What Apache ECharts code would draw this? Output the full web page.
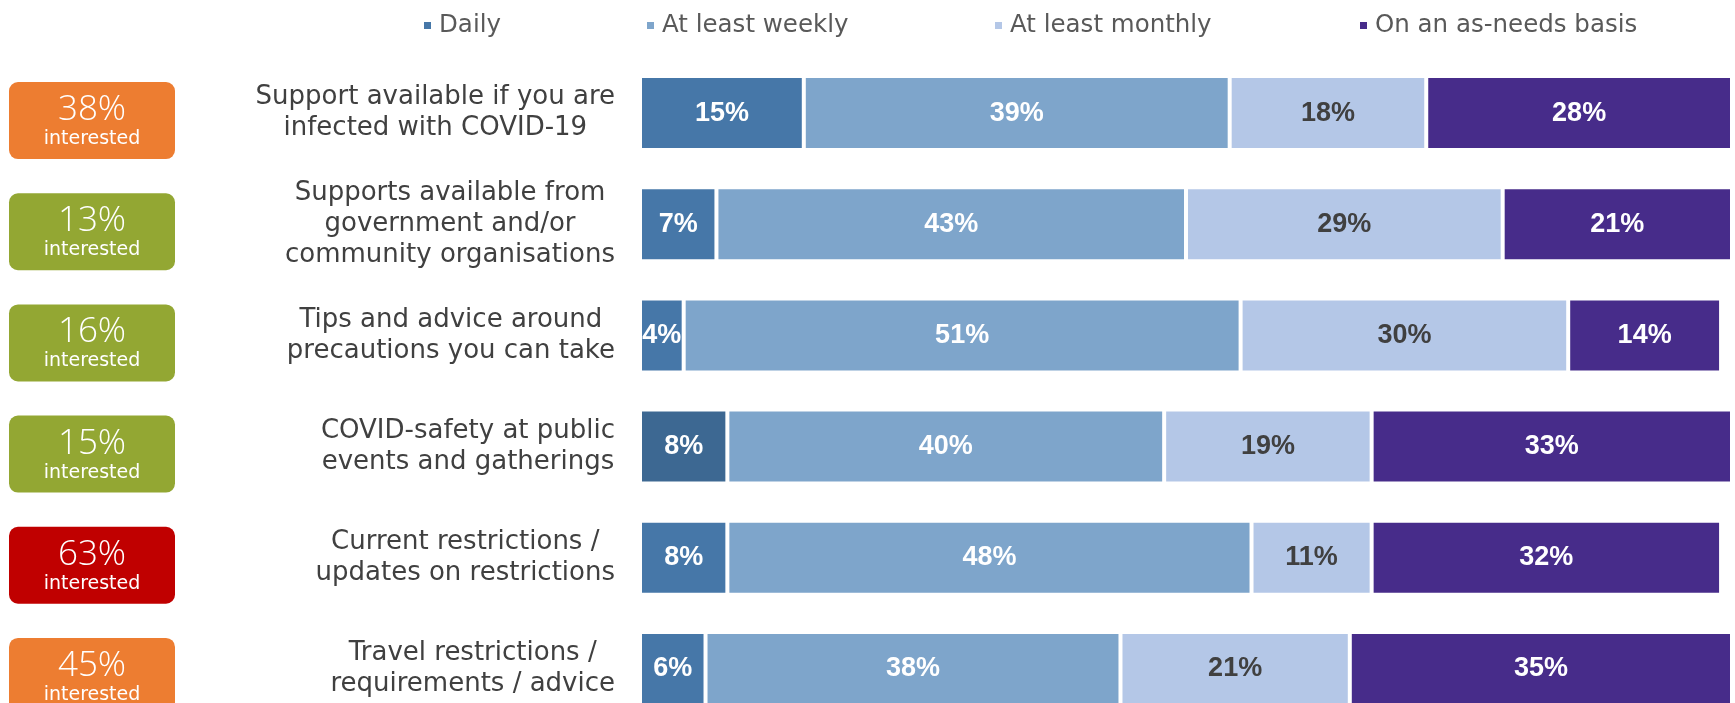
<!DOCTYPE html>
<html>
<head>
<meta charset="utf-8">
<script src="https://cdn.jsdelivr.net/npm/echarts@6/dist/echarts.min.js"></script>
<style>
  html, body { margin: 0; padding: 0; background: #fff; }
  #chart { width: 1735px; height: 703px; }
</style>
</head>
<body>
<div id="chart"></div>
<script>
// Rows top -> bottom.
const CATEGORIES = [
  'Support available if you are\ninfected with COVID-19',
  'Supports available from\ngovernment and/or\ncommunity organisations',
  'Tips and advice around\nprecautions you can take',
  'COVID-safety at public\nevents and gatherings',
  'Current restrictions /\nupdates on restrictions',
  'Travel restrictions /\nrequirements / advice',
];
const SERIES_NAMES = ['Daily', 'At least weekly', 'At least monthly', 'On an as-needs basis'];
const DAILY = [15, 7, 4, 8, 8, 6];
const WEEKLY = [39, 43, 51, 40, 48, 38];
const MONTHLY = [18, 29, 30, 19, 11, 21];
const AS_NEEDS = [28, 21, 14, 33, 32, 35];
// % interested badge on the left of each row
const INTERESTED = [38, 13, 16, 15, 63, 45];

const COLORS = ['#4677A8', '#7EA5CB', '#B4C7E7', '#472C8A'];
const LABEL_COLORS = ['#fff', '#fff', '#404040', '#fff'];
const LEGEND_LEFT = [417, 640, 988, 1353];

const BAR_FONT = "'Liberation Sans', Arial, sans-serif";
const TEXT_FONT = "'DejaVu Sans', sans-serif";

function badgeColor(v) {
  if (v >= 60) return '#C00000';
  if (v >= 30) return '#ED7D31';
  return '#93A733';
}

const chart = echarts.init(document.getElementById('chart'));

const barSeries = [DAILY, WEEKLY, MONTHLY, AS_NEEDS].map((data, i) => ({
  name: SERIES_NAMES[i],
  type: 'bar',
  stack: 'total',
  xAxisIndex: 0,
  yAxisIndex: 0,
  barWidth: 74,
  data,
  itemStyle: {
    // the COVID-safety "Daily" segment is a shade darker in the original
    color: i === 0 ? (p => (p.dataIndex === 3 ? '#3D6892' : COLORS[0])) : COLORS[i],
    borderColor: '#fff',
    borderWidth: 2,
  },
  label: {
    show: true,
    position: 'inside',
    formatter: p => `${p.value}%`,
    color: LABEL_COLORS[i],
    fontFamily: BAR_FONT,
    fontWeight: 'bold',
    fontSize: 27,
  },
  emphasis: { disabled: true },
}));

chart.setOption({
  animation: false,
  color: COLORS,
  legend: SERIES_NAMES.map((name, i) => ({
    data: [name],
    left: LEGEND_LEFT[i],
    top: 8,
    icon: 'rect',
    itemWidth: 9,
    itemHeight: 9,
    selectedMode: false,
    textStyle: {
      color: '#595959',
      fontFamily: TEXT_FONT,
      fontSize: 24.5,
      padding: [0, 0, 0, 2],
    },
  })),
  grid: [
    { left: 640, width: 1092, top: 57.5, height: 667, outerBoundsMode: 'none' },
    { left: 9, width: 166, top: 57.5, height: 667, outerBoundsMode: 'none' },
  ],
  xAxis: [
    { type: 'value', gridIndex: 0, min: 0, max: 100, show: false },
    { type: 'value', gridIndex: 1, min: 0, max: 1, show: false },
  ],
  yAxis: [
    {
      type: 'category',
      gridIndex: 0,
      inverse: true,
      data: CATEGORIES,
      axisLine: { show: false },
      axisTick: { show: false },
      axisLabel: {
        margin: 25,
        formatter: v => v.split('\n').map(l => `{c|${l}}`).join('\n'),
        rich: {
          c: {
            align: 'center',
            color: '#404040',
            fontFamily: TEXT_FONT,
            fontSize: 26,
            lineHeight: 31,
          },
        },
      },
    },
    {
      type: 'category',
      gridIndex: 1,
      inverse: true,
      data: CATEGORIES,
      show: false,
    },
  ],
  series: [
    ...barSeries,
    {
      type: 'custom',
      xAxisIndex: 1,
      yAxisIndex: 1,
      silent: true,
      data: INTERESTED.map((v, i) => [i, v]),
      encode: { y: 0, x: 1 },
      renderItem: (params, api) => {
        const idx = api.value(0);
        const pct = api.value(1);
        const pt = api.coord([0, idx]);
        const w = api.size([1, 0])[0];
        return {
          type: 'group',
          children: [
            {
              type: 'rect',
              shape: { x: pt[0], y: pt[1] - 31, width: w, height: 77, r: 9 },
              style: { fill: badgeColor(pct) },
            },
            {
              type: 'text',
              style: {
                text: `${pct}%`,
                x: pt[0] + w / 2,
                y: pt[1] - 3,
                align: 'center',
                verticalAlign: 'middle',
                fill: '#fff',
                fontFamily: "'Open Sans', sans-serif",
                fontWeight: 300,
                fontSize: 35,
              },
            },
            {
              type: 'text',
              style: {
                text: 'interested',
                x: pt[0] + w / 2,
                y: pt[1] + 26,
                align: 'center',
                verticalAlign: 'middle',
                fill: '#fff',
                fontFamily: TEXT_FONT,
                fontSize: 19,
              },
            },
          ],
        };
      },
    },
  ],
});
</script>
</body>
</html>
